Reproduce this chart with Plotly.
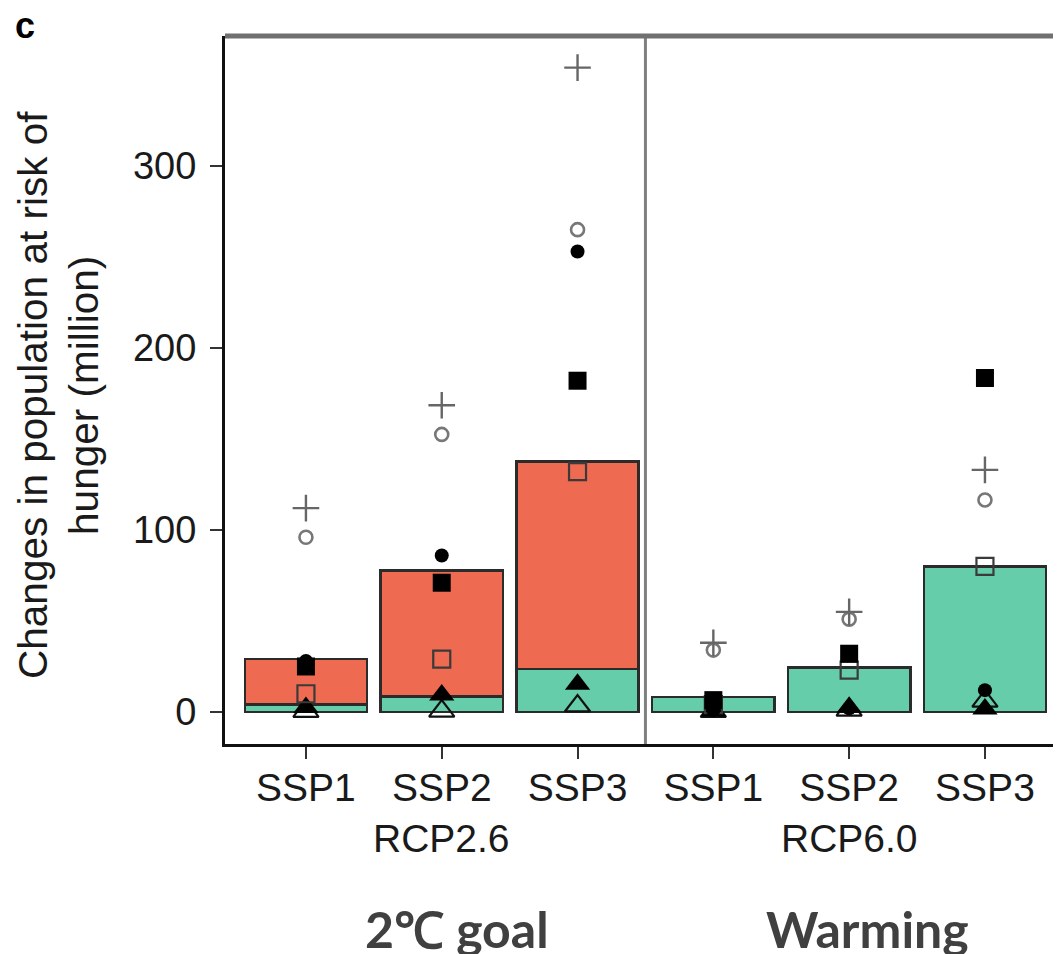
import plotly.graph_objects as go

# ---------------- data ----------------
categories = ["SSP1", "SSP2", "SSP3", "SSP1", "SSP2", "SSP3"]
x_pos = [0, 1, 2, 3, 4, 5]
scenarios = ["RCP2.6", "RCP6.0"]
scenario_centers = [1, 4]
group_labels = ["2\u2103 goal", "Warming"]

# stacked bars (million people)
green_bar = [4, 8.4, 23.6, 8.2, 24.5, 80]
orange_bar = [25, 69.2, 113.9, None, None, None]  # added on top of green (RCP2.6 only)

# individual model results
plus_vals = [112, 168.5, 354, 38, 55, 133]
open_circle_vals = [96, 152.5, 265, 34, 51, 116.5]
filled_circle_vals = [28, 86, 253, 1, 2, 12]
filled_square_vals = [25, 71, 182, 6.5, 32, 183.5]
open_square_vals = [10, 29, 132, 4, 23, 80]
filled_triangle_vals = [2.5, 9.3, 15.2, 0.5, 2.6, 1.6]
open_triangle_vals = [0.3, 0.5, 3.3, 0.3, 1, 6]

y_ticks = [0, 100, 200, 300]

# ---------------- figure ----------------
FONT = "Liberation Sans, Arial, Helvetica, sans-serif"
fig = go.Figure()

fig.add_trace(go.Bar(x=x_pos, y=green_bar, width=0.9, marker=dict(color="#66CDAA", line=dict(color="#2b2b2b", width=2.5)),
                     showlegend=False, name="green"))
fig.add_trace(go.Bar(x=x_pos, y=orange_bar, width=0.9, marker=dict(color="#EE6A50", line=dict(color="#2b2b2b", width=2.5)),
                     showlegend=False, name="orange"))

def add_pts(vals, symbol, size, color, lw=0, lcolor=None):
    fig.add_trace(go.Scatter(
        x=x_pos, y=vals, mode="markers", showlegend=False,
        marker=dict(symbol=symbol, size=size, color=color,
                    line=dict(width=lw, color=lcolor if lcolor else color)),
        cliponaxis=False))

add_pts(open_triangle_vals, "triangle-up-open", 22, "#111111", 2.2, "#111111")
add_pts(filled_triangle_vals, "triangle-up", 22, "#000000", 0)
add_pts(open_square_vals, "square-open", 17, "#3a3a3a", 2.2, "#3a3a3a")
add_pts(filled_square_vals, "square", 18, "#000000", 0)
add_pts(filled_circle_vals, "circle", 14, "#000000", 0)
add_pts(open_circle_vals, "circle-open", 13, "#777777", 2.6, "#777777")
add_pts(plus_vals, "cross-thin", 19, "#666666", 2.4, "#666666")

fig.update_layout(
    width=1053, height=946,
    margin=dict(l=217, r=0, t=28, b=210),
    barmode="stack",
    plot_bgcolor="white", paper_bgcolor="white",
    font=dict(family=FONT, color="#1a1a1a"),
    xaxis=dict(range=[-0.596, 5.56], tickvals=x_pos, ticktext=categories,
               ticks="outside", ticklen=12, tickwidth=2, tickcolor="#333333",
               showline=True, linecolor="#111111", linewidth=3,
               showgrid=False, zeroline=False, ticklabelstandoff=-5,
               tickfont=dict(size=39, family=FONT, color="#1a1a1a")),
    yaxis=dict(range=[-17.6, 371.4], tickvals=y_ticks,
               ticks="outside", ticklen=12, tickwidth=2, tickcolor="#333333",
               showline=True, linecolor="#111111", linewidth=3,
               showgrid=False, zeroline=False, ticklabelstandoff=6,
               tickfont=dict(size=38, family=FONT, color="#1a1a1a")),
    shapes=[
        dict(type="line", xref="paper", yref="paper", x0=0, x1=1, y0=1, y1=1,
             line=dict(color="#707070", width=5)),
        dict(type="line", xref="x", yref="paper", x0=2.5, x1=2.5, y0=0, y1=1,
             line=dict(color="#808080", width=3), layer="below"),
    ],
)

ann = []
for sc, cx in zip(scenarios, scenario_centers):
    ann.append(dict(text=sc, x=cx, xref="x", y=-0.134, yref="paper", xanchor="center", yanchor="middle",
                    showarrow=False, font=dict(size=39, family=FONT, color="#1a1a1a")))
for g, px in zip(group_labels, [0.2775, 0.768]):
    ann.append(dict(text="<b>" + g + "</b>", x=px, xref="paper", y=-0.2613, yref="paper",
                    xanchor="center", yanchor="middle", showarrow=False,
                    font=dict(size=50, family="Lato, Open Sans, sans-serif", color="#404040")))
for line, px in zip(["Changes in population at risk of", "hunger (million)"], [-0.2297, -0.1687]):
    ann.append(dict(text=line, textangle=-90,
                    x=px, xref="paper", y=0.493, yref="paper", xanchor="center", yanchor="middle",
                    showarrow=False, font=dict(size=40.5, family=FONT, color="#1a1a1a")))
ann.append(dict(text="<b>c</b>", x=-0.239, xref="paper", y=1.0155, yref="paper",
                xanchor="center", yanchor="middle", showarrow=False,
                font=dict(size=36, family=FONT, color="#000000")))
fig.update_layout(annotations=ann)

fig.write_html("out.html")
